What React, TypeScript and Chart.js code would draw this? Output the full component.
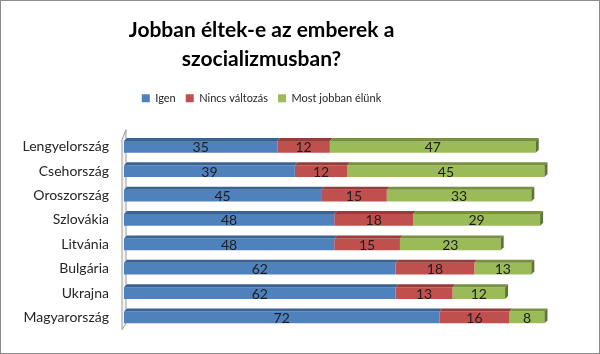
import React, { useEffect, useRef } from "react";
import { Chart, registerables } from "chart.js";

Chart.register(...registerables);

const titleLines = ["Jobban éltek-e az emberek a", "szocializmusban?"];
const categories = [
  "Lengyelország",
  "Csehország",
  "Oroszország",
  "Szlovákia",
  "Litvánia",
  "Bulgária",
  "Ukrajna",
  "Magyarország",
];
const seriesNames = ["Igen", "Nincs változás", "Most jobban élünk"];
const igen = [35, 39, 45, 48, 48, 62, 62, 72];
const nincs = [12, 12, 15, 18, 15, 18, 13, 16];
const jobban = [47, 45, 33, 29, 23, 13, 12, 8];

const colors = ["#4f81bd", "#c0504d", "#9bbb59"];
const topColors = ["#3a6394", "#963c3a", "#77913f"];
const sideColors = ["#2f5178", "#7a302e", "#5f7532"];

const FONT = "Lato, 'Open Sans', sans-serif";

const bar3d = {
  id: "bar3d",
  beforeDatasetsDraw(chart: any) {
    const { ctx, chartArea } = chart;
    const L = chartArea.left;
    const T = chartArea.top;
    const B = chartArea.bottom;
    ctx.save();
    ctx.beginPath();
    ctx.moveTo(L - 2, T + 5);
    ctx.lineTo(L + 2, T - 5);
    ctx.lineTo(L + 2, B - 6);
    ctx.lineTo(L - 2, B);
    ctx.closePath();
    ctx.fillStyle = "#f4f4f4";
    ctx.fill();
    ctx.strokeStyle = "#9a9a9a";
    ctx.lineWidth = 1;
    ctx.stroke();
    ctx.restore();
  },
  afterDatasetsDraw(chart: any) {
    const { ctx } = chart;
    const d = 3;
    const n = chart.data.datasets.length;
    ctx.save();
    for (let di = 0; di < n; di++) {
      const meta = chart.getDatasetMeta(di);
      meta.data.forEach((el: any, i: number) => {
        const left = Math.min(el.x, el.base);
        const right = Math.max(el.x, el.base);
        const top = el.y - el.height / 2;
        const bottom = el.y + el.height / 2;
        ctx.beginPath();
        ctx.moveTo(left, top);
        ctx.lineTo(left + d, top - d);
        ctx.lineTo(right + d, top - d);
        ctx.lineTo(right, top);
        ctx.closePath();
        ctx.fillStyle = topColors[di];
        ctx.fill();
        if (di === n - 1) {
          ctx.beginPath();
          ctx.moveTo(right, top);
          ctx.lineTo(right + d, top - d);
          ctx.lineTo(right + d, bottom - d);
          ctx.lineTo(right, bottom);
          ctx.closePath();
          ctx.fillStyle = sideColors[di];
          ctx.fill();
        }
        const v = chart.data.datasets[di].data[i];
        ctx.fillStyle = "#1e1e1e";
        ctx.font = `14px ${FONT}`;
        ctx.textAlign = "center";
        ctx.textBaseline = "middle";
        ctx.fillText(String(v), (left + right) / 2, el.y + 1);
      });
    }
    ctx.restore();
  },
};

export default function App() {
  const ref = useRef<HTMLCanvasElement>(null);
  useEffect(() => {
    const values = [igen, nincs, jobban];
    const chart = new Chart(ref.current!, {
      type: "bar",
      data: {
        labels: categories,
        datasets: seriesNames.map((name, k) => ({
          label: name,
          data: values[k],
          backgroundColor: colors[k],
          borderWidth: 0,
          barPercentage: 0.48,
          categoryPercentage: 1,
        })),
      },
      options: {
        indexAxis: "y",
        animation: false,
        responsive: false,
        layout: { padding: { left: -40, right: 37, top: 0, bottom: 19 } },
        scales: {
          x: {
            stacked: true,
            min: 0,
            max: 100,
            position: "top",
            display: true,
            grid: { display: false, drawTicks: false },
            border: { display: false },
            ticks: { display: false },
            afterFit: (s: any) => {
              s.height = 21;
            },
          },
          y: {
            stacked: true,
            grid: { display: false, drawTicks: false },
            border: { display: false },
            ticks: {
              color: "#262626",
              font: { family: FONT, size: 14 },
              padding: 15,
            },
            afterFit: (s: any) => {
              s.width = 163;
            },
          },
        },
        plugins: {
          title: {
            display: true,
            text: titleLines,
            color: "#000",
            font: { family: FONT, size: 21, weight: "bold", lineHeight: 1.42 },
            padding: { top: 14, bottom: 8 },
          },
          legend: {
            display: true,
            position: "top",
            labels: {
              boxWidth: 8,
              boxHeight: 8,
              color: "#262626",
              font: { family: FONT, size: 11 },
              padding: 10,
            },
          },
          tooltip: { enabled: false },
        },
      },
      plugins: [bar3d],
    });
    return () => chart.destroy();
  }, []);
  return (
    <div
      style={{
        position: "fixed",
        left: 0,
        top: 0,
        width: 600,
        height: 354,
        boxSizing: "border-box",
        border: "1px solid #8c8c8c",
        background: "#fff",
      }}
    >
      <canvas ref={ref} width={598} height={352} style={{ display: "block" }} />
    </div>
  );
}
